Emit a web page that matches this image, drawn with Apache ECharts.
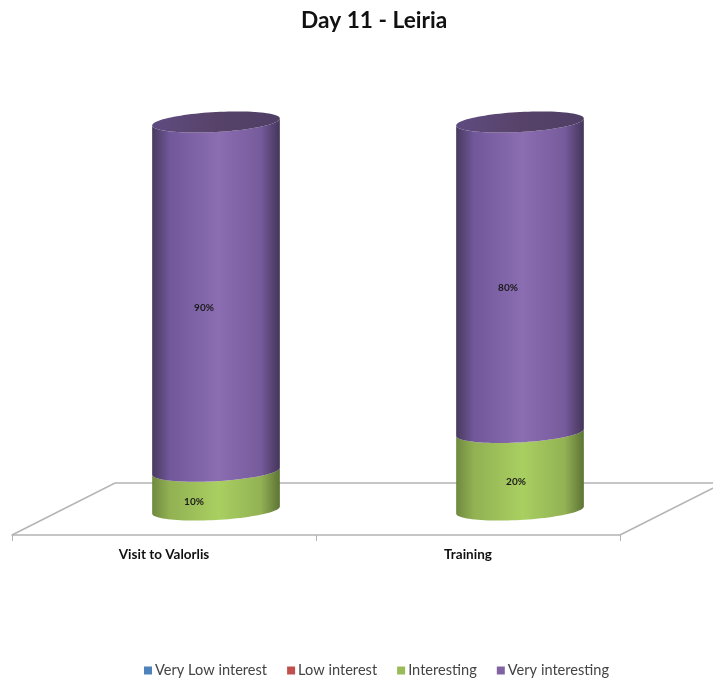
<!DOCTYPE html>
<html>
<head>
<meta charset="utf-8">
<style>html,body{margin:0;padding:0;background:#fff}#chart{width:713px;height:682px}</style>
<script src="https://cdn.jsdelivr.net/npm/echarts@6/dist/echarts.min.js"></script>
</head>
<body>
<div id="chart"></div>
<script>
var titleText = 'Day 11 - Leiria';
var categories = ['Visit to Valorlis', 'Training'];
var seriesNames = ['Very Low interest', 'Low interest', 'Interesting', 'Very interesting'];
var veryLow = [0, 0];
var low = [0, 0];
var interesting = [10, 20];
var veryInteresting = [90, 80];
var allValues = [veryLow, low, interesting, veryInteresting];
var FONT = 'Lato, "Open Sans", sans-serif';

var flat = ['#4F81BD', '#C0504D', '#9BBB59', '#8064A2'];
var ramps = [
  ['#34567f', '#4F81BD', '#5b93d6', '#4F81BD', '#2f4f75'],
  ['#7f3432', '#C0504D', '#d65a57', '#C0504D', '#753130'],
  ['#6f8a3f', '#92b153', '#a9cf61', '#93b254', '#5c7434'],
  ['#49395f', '#71589a', '#8b6db2', '#765b9c', '#44355a']
];
function grad(r) {
  return new echarts.graphic.LinearGradient(0, 0, 1, 0, [
    {offset: 0, color: r[0]}, {offset: 0.14, color: r[1]}, {offset: 0.52, color: r[2]},
    {offset: 0.85, color: r[3]}, {offset: 1, color: r[4]}
  ]);
}
var capGrad = new echarts.graphic.LinearGradient(0, 0, 1, 0, [
  {offset: 0, color: '#604b80'}, {offset: 0.5, color: '#574369'}, {offset: 1, color: '#4f3e66'}
]);

var tiltRy = 10, tiltSkew = -3.5, bandRatio = 0.21;
var labelDy = 11;
var labelDx = {'2-0': -22, '2-1': -4, '3-0': -12, '3-1': -12};

function ell(cx, cy, rx, t) {
  return [cx + rx * Math.cos(t), cy + tiltRy * Math.sin(t) + tiltSkew * Math.cos(t)];
}
function frontArc(cx, cy, rx, reverse) {
  var pts = [], n = 48;
  for (var i = 0; i <= n; i++) {
    var t = Math.PI * (reverse ? (n - i) : i) / n;
    pts.push(ell(cx, cy, rx, t));
  }
  return pts;
}
function makeSeries(si) {
  var data = categories.map(function (c, i) {
    var start = 0;
    for (var k = 0; k < si; k++) start += allValues[k][i];
    return [i, start, start + allValues[si][i], allValues[si][i]];
  });
  return {
    type: 'custom',
    name: seriesNames[si],
    xAxisIndex: 0,
    yAxisIndex: 0,
    clip: false,
    z: 5 + si,
    itemStyle: {color: flat[si]},
    data: data,
    encode: {x: 0, y: [1, 2]},
    renderItem: function (params, api) {
      var cat = api.value(0), s = api.value(1), e = api.value(2), v = api.value(3);
      if (!v) return {type: 'group', children: []};
      var p0 = api.coord([cat, s]), p1 = api.coord([cat, e]);
      var rx = api.size([1, 0])[0] * bandRatio;
      var cx = p0[0];
      var pts = frontArc(cx, p0[1], rx, false).concat(frontArc(cx, p1[1], rx, true));
      var children = [{
        type: 'polygon',
        shape: {points: pts},
        style: {fill: grad(ramps[si])}
      }];
      if (e >= 100) {
        var cap = [];
        for (var i = 0; i < 96; i++) cap.push(ell(cx, p1[1], rx, i / 96 * Math.PI * 2));
        children.push({type: 'polygon', shape: {points: cap}, style: {fill: capGrad}});
      }
      children.push({
        type: 'text',
        x: cx + (labelDx[si + '-' + cat] || 0),
        y: (p0[1] + p1[1]) / 2 + labelDy,
        style: {
          text: v + '%', fill: '#1a1a1a', font: 'bold 10px ' + FONT,
          align: 'center', verticalAlign: 'middle'
        }
      });
      return {type: 'group', children: children};
    }
  };
}

var floorDepthX = 103, floorDepthY = 52;
var floorSeries = {
  type: 'custom',
  name: 'floor',
  xAxisIndex: 1,
  yAxisIndex: 1,
  clip: false,
  silent: true,
  z: 1,
  data: [[0, 0]],
  renderItem: function (params) {
    var g = params.coordSys, y = g.y + g.height, l = g.x, r = g.x + g.width;
    return {
      type: 'polyline',
      shape: {points: [[l, y], [l + floorDepthX, y - floorDepthY], [r + floorDepthX, y - floorDepthY], [r, y]]},
      style: {stroke: '#b4b4b4', lineWidth: 1.5, fill: null}
    };
  }
};

var chart = echarts.init(document.getElementById('chart'), null, {renderer: 'canvas'});
chart.setOption({
  backgroundColor: '#fff',
  animation: false,
  title: {
    text: titleText, left: 296, top: 4,
    textStyle: {fontFamily: FONT, fontSize: 22.7, fontWeight: 'bold', color: '#111'}
  },
  legend: {
    data: seriesNames, left: 139, top: 658, icon: 'rect',
    itemWidth: 8, itemHeight: 8, itemGap: 20,
    textStyle: {fontFamily: FONT, fontSize: 14.6, color: '#444', padding: [0, 0, 0, -2]}
  },
  grid: [
    {left: 64, top: 122, width: 608, height: 388},
    {left: 12, top: 483, width: 608, height: 52}
  ],
  xAxis: [
    {type: 'category', gridIndex: 0, data: categories, show: false},
    {
      type: 'category', gridIndex: 1, data: categories,
      axisLine: {lineStyle: {color: '#b4b4b4', width: 1.5}},
      axisTick: {show: true, length: 6, alignWithLabel: false, lineStyle: {color: '#b4b4b4'}},
      axisLabel: {fontFamily: FONT, fontSize: 13.5, fontWeight: 'bold', color: '#111', margin: 13}
    }
  ],
  yAxis: [
    {type: 'value', gridIndex: 0, min: 0, max: 100, show: false},
    {type: 'value', gridIndex: 1, min: 0, max: 1, show: false}
  ],
  series: [floorSeries].concat(seriesNames.map(function (n, i) { return makeSeries(i); }))
});
</script>
</body>
</html>
